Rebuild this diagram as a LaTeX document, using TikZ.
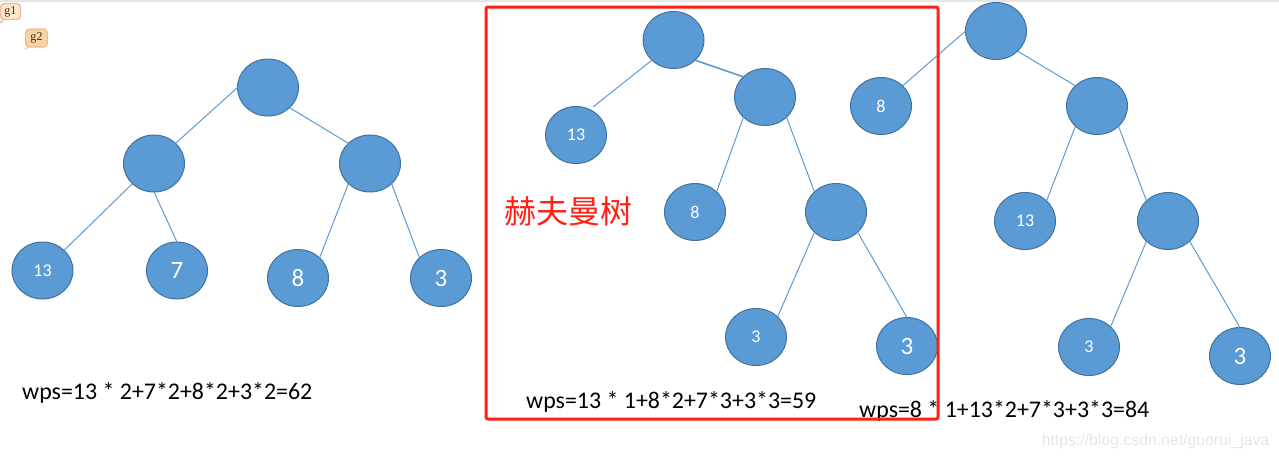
\documentclass[tikz,border=0pt]{standalone}
\usepackage{fontspec}
\usepackage{xcolor}
\setmainfont{Carlito}
\newfontfamily\cjkfont{Noto Sans CJK SC}
\newfontfamily\markfont{Liberation Sans}
\newfontfamily\tagfont{Liberation Serif}
\usetikzlibrary{shapes.geometric}
\definecolor{nodeblue}{HTML}{5B9BD5}
\definecolor{nodeedge}{HTML}{41719C}
\definecolor{boxred}{HTML}{FF2015}
\definecolor{tagline}{HTML}{F2B896}
\definecolor{tagpale}{HTML}{FDE8CC}
\definecolor{tagdeep}{HTML}{F5D5A3}
\definecolor{tagink}{HTML}{4A2A10}
\definecolor{topline}{HTML}{E6E6E6}
\tikzset{
  treenode/.style={
    ellipse,
    fill=nodeblue,
    draw=nodeedge,
    line width=1pt,
    inner sep=0pt,
    outer sep=0pt,
    minimum width=61pt,
    minimum height=57pt,
    align=center,
    text=white
  },
  smallnum/.style={treenode,font=\fontsize{18}{21}\selectfont},
  bignum/.style={treenode,font=\fontsize{25}{29}\selectfont},
  treeedge/.style={draw=nodeblue, line width=1pt},
  wpslabel/.style={anchor=west, inner sep=0pt, text=black, font=\fontsize{23.9}{28}\selectfont},
  tagbubble/.style={
    rounded corners=4pt,
    draw=tagline,
    line width=1.3pt,
    inner sep=0pt,
    text=tagink,
    font=\tagfont\fontsize{12}{14}\selectfont
  },
  tagtail/.style={draw=tagline, fill=tagline, line width=0.6pt}
}
\begin{document}
\begin{tikzpicture}[x=1pt,y=-1pt]
      \useasboundingbox (0,0) rectangle (1279,459);
      \fill[topline] (0,0) rectangle (1279,1.5);
      % left tree
      \node[treenode] (aroot) at (268,87.5) {};
      \node[treenode] (aleft) at (154,163.5) {};
      \node[treenode] (aright) at (370,163.5) {};
      \node[smallnum] (a13) at (42.5,270.5) {13};
      \node[bignum] (a7) at (177,270.5) {7};
      \node[bignum] (a8) at (298,278) {8};
      \node[bignum] (a3) at (441,278) {3};
      \draw[treeedge] (aroot.west) -- (aleft.north east);
      \draw[treeedge] (aroot.south east) -- (aright.north west);
      \draw[treeedge] (aleft.south west) -- (a13.north east);
      \draw[treeedge] (aleft.south) -- (a7.north);
      \draw[treeedge] (aright.south west) -- (a8.north east);
      \draw[treeedge] (aright.south east) -- (a3.north west);
      % middle tree
      \node[treenode] (broot) at (673.5,40) {};
      \node[smallnum] (b13) at (576,135) {13};
      \node[treenode] (bright) at (765,97) {};
      \node[smallnum] (b8) at (695,212) {8};
      \node[treenode] (binner) at (836,212) {};
      \node[smallnum] (b3) at (756,337) {3};
      \node[bignum] (b3big) at (907,346) {3};
      \coordinate (bstub) at (593,107);
      \draw[treeedge] (broot.south west) -- (bstub);
      \draw[treeedge,line width=1.6pt] (broot.south east) -- (bright.north west);
      \draw[treeedge] (bright.south west) -- (b8.north east);
      \draw[treeedge] (bright.south east) -- (binner.north west);
      \draw[treeedge] (binner.south west) -- (b3.north east);
      \draw[treeedge] (binner.south east) -- (b3big.north);
      % right tree
      \node[treenode] (croot) at (996,31) {};
      \node[smallnum] (c8) at (881,106) {8};
      \node[treenode] (cright) at (1097,106) {};
      \node[smallnum] (c13) at (1025,221) {13};
      \node[treenode] (cinner) at (1168,221) {};
      \node[smallnum] (c3) at (1089,347) {3};
      \node[bignum] (c3big) at (1240,356) {3};
      \draw[treeedge] (croot.west) -- (c8.north east);
      \draw[treeedge] (croot.south east) -- (cright.north west);
      \draw[treeedge] (cright.south west) -- (c13.north east);
      \draw[treeedge] (cright.south east) -- (cinner.north west);
      \draw[treeedge] (cinner.south west) -- (c3.north east);
      \draw[treeedge] (cinner.south east) -- (c3big.north);
      % texts
      \node[wpslabel] (awps) at (22,392.5) {wps=13 * 2+7*2+8*2+3*2=62};
      \node[wpslabel] (bwps) at (526,401.5) {wps=13 * 1+8*2+7*3+3*3=59};
      \node[wpslabel] (cwps) at (859,410.5) {wps=8 * 1+13*2+7*3+3*3=84};
      \node[text=boxred,inner sep=0pt,font=\cjkfont\fontsize{32}{36}\selectfont] (title) at (568,211) {赫夫曼树};
      \node[draw=boxred,line width=3pt,rounded corners=2pt,inner sep=0pt,minimum width=452pt,minimum height=412pt] (redbox) at (712,213) {};
      \node[text=black!10,inner sep=0pt,font=\markfont\fontsize{15.8}{19}\selectfont] (mark) at (1155.5,441) {https://blog.csdn.net/guorui\_java};
      % comment tags
      \coordinate (gonetip) at (0,23);
      \coordinate (gtwotip) at (25,49);
      \node[tagbubble,fill=tagpale,minimum width=20pt,minimum height=16pt] (gone) at (10.5,11.5) {g1};
      \node[tagbubble,fill=tagdeep,minimum width=22pt,minimum height=18pt] (gtwo) at (36.5,38) {g2};
      \draw[tagtail] ([xshift=0.5pt,yshift=-1pt]gone.south west) -- (gonetip) -- ([xshift=4pt]gone.south west);
      \draw[tagtail] ([yshift=-1pt]gtwo.south west) -- (gtwotip) -- ([xshift=3pt]gtwo.south west);
    \end{tikzpicture}
\end{document}
